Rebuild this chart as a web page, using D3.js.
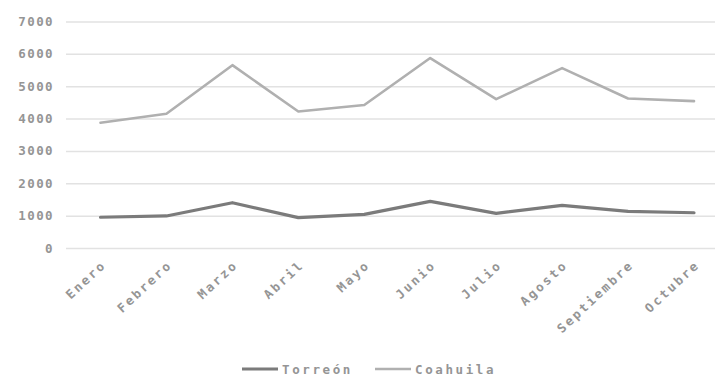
<!DOCTYPE html>
<html>
<head>
<meta charset="utf-8">
<script src="https://cdn.jsdelivr.net/npm/d3@7"></script>
<style>
  html, body { margin: 0; padding: 0; background: #fff; }
  svg { display: block; }
  text { font-family: "DejaVu Sans Mono", monospace; fill: #959595; font-weight: bold; }
</style>
</head>
<body>
<svg id="chart" width="715" height="378"></svg>
<script>
// Monthly totals
const months = ["Enero", "Febrero", "Marzo", "Abril", "Mayo", "Junio", "Julio", "Agosto", "Septiembre", "Octubre"];
const torreon = [950, 990, 1400, 940, 1040, 1440, 1070, 1320, 1130, 1090];
const coahuila = [3870, 4150, 5650, 4220, 4420, 5870, 4600, 5560, 4620, 4540];
const yTicks = [0, 1000, 2000, 3000, 4000, 5000, 6000, 7000];
const seriesNames = ["Torreón", "Coahuila"];
const seriesColors = ["#7b7b7b", "#b0b0b0"];

const svg = d3.select("#chart");

const x = d3.scalePoint().domain(months).range([100.5, 694]);
const y = d3.scaleLinear().domain([0, 7000]).range([248, 21.5]);

// Horizontal gridlines
const grid = d3.axisLeft(y).tickValues(yTicks).tickSize(-650).tickFormat("");
svg.append("g")
  .attr("transform", "translate(66,0)")
  .call(grid)
  .call(g => g.select(".domain").remove())
  .call(g => g.selectAll("line").attr("stroke", "#e2e2e2").attr("stroke-width", 1.5));

// Y axis labels
svg.append("g")
  .attr("transform", "translate(54,0)")
  .call(d3.axisLeft(y).tickValues(yTicks).tickSize(0).tickPadding(0).tickFormat(d3.format("d")))
  .call(g => g.select(".domain").remove())
  .call(g => g.selectAll("text")
    .attr("font-size", 12.5)
    .attr("letter-spacing", 1.4)
    .attr("fill", "#959595")
    .style("font-family", "'DejaVu Sans Mono', monospace"));

// X axis labels, rotated
svg.append("g")
  .attr("transform", "translate(0,256)")
  .call(d3.axisBottom(x).tickSize(0).tickPadding(0))
  .call(g => g.select(".domain").remove())
  .call(g => g.selectAll("text")
    .attr("font-size", 12.5)
    .attr("letter-spacing", 2.4)
    .attr("fill", "#959595")
    .style("font-family", "'DejaVu Sans Mono', monospace")
    .attr("text-anchor", "end")
    .attr("dy", 0)
    .attr("transform", "translate(6,10) rotate(-43)"));

// Lines
const line = d3.line()
  .x((d, i) => x(months[i]))
  .y(d => y(d));

[coahuila, torreon].forEach((vals, k) => {
  const idx = k === 0 ? 1 : 0;
  svg.append("path")
    .datum(vals)
    .attr("fill", "none")
    .attr("stroke", seriesColors[idx])
    .attr("stroke-width", idx === 0 ? 3.2 : 2.6)
    .attr("stroke-linejoin", "round")
    .attr("stroke-linecap", "round")
    .attr("d", line);
});

// Legend
const legend = svg.append("g").attr("transform", "translate(0,369)");
const legendX = [242, 375];
seriesNames.forEach((name, i) => {
  const g = legend.append("g").attr("transform", `translate(${legendX[i]},0)`);
  g.append("line")
    .attr("x1", 0).attr("x2", 36).attr("y1", 0).attr("y2", 0)
    .attr("stroke", seriesColors[i])
    .attr("stroke-width", i === 0 ? 3.2 : 2.6);
  g.append("text")
    .attr("x", 40).attr("y", 4.5)
    .attr("font-size", 12.5)
    .attr("letter-spacing", 2.6)
    .text(name);
});
</script>
</body>
</html>
